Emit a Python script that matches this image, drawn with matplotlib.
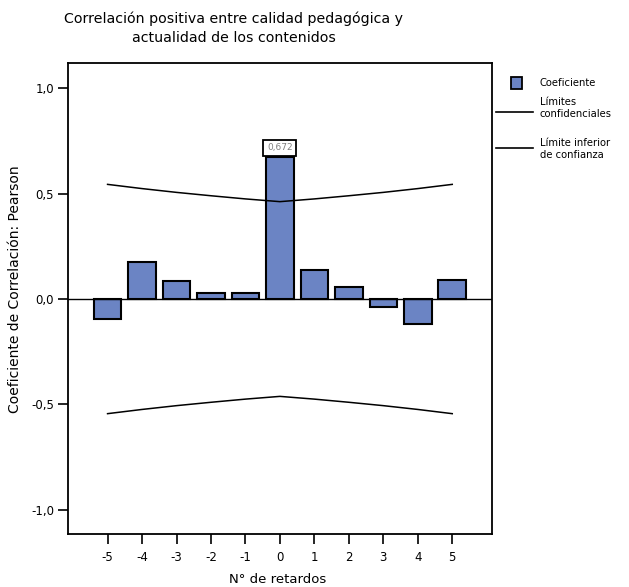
import matplotlib.pyplot as plt
from matplotlib.lines import Line2D
from matplotlib.patches import Rectangle

plt.rcParams['font.family'] = ['DejaVu Sans']

# Datos
retardos = [-5, -4, -3, -2, -1, 0, 1, 2, 3, 4, 5]
coeficientes = [-0.093, 0.174, 0.084, 0.028, 0.028, 0.672, 0.137, 0.055, -0.036, -0.118, 0.091]
limite_superior = [0.544, 0.524, 0.506, 0.490, 0.475, 0.462, 0.475, 0.490, 0.506, 0.524, 0.544]
limite_inferior = [-v for v in limite_superior]
yticks = [-1.0, -0.5, 0.0, 0.5, 1.0]
ytick_labels = ['-1,0', '-0,5', '0,0', '0,5', '1,0']

bar_color = '#6b84c4'

fig = plt.figure(figsize=(6.29, 5.87), dpi=100)
ax = fig.add_axes([0.108, 0.0903, 0.674, 0.8024])

ax.bar(retardos, coeficientes, width=0.8, color=bar_color, edgecolor='black', linewidth=1.5, zorder=2)
ax.plot(retardos, limite_superior, color='black', linewidth=1.1, zorder=3)
ax.plot(retardos, limite_inferior, color='black', linewidth=1.1, zorder=3)
ax.axhline(0, color='black', linewidth=1.0, zorder=4)

# Etiqueta del valor maximo
i_max = coeficientes.index(max(coeficientes))
ax.annotate(f"{coeficientes[i_max]:.3f}".replace('.', ','),
            xy=(retardos[i_max], coeficientes[i_max]), xytext=(0, 7),
            textcoords='offset points', ha='center', va='center',
            fontsize=6.5, color='#808080',
            bbox=dict(boxstyle='square,pad=0.4', fc='white', ec='black', lw=1.3))

ax.set_xlim(-6.15, 6.15)
ax.set_ylim(-1.115, 1.12)
ax.set_xticks(retardos)
ax.set_xticklabels([str(r) for r in retardos], fontsize=8.5)
ax.set_yticks(yticks)
ax.set_yticklabels(ytick_labels, fontsize=8.5)
ax.tick_params(axis='both', direction='out', length=7, width=1.2, pad=3)
ax.tick_params(axis='x', pad=5)
for s in ax.spines.values():
    s.set_linewidth(1.3)

ax.set_xlabel('N° de retardos', fontsize=9.5)
ax.set_ylabel('Coeficiente de Correlación: Pearson', fontsize=10)
ax.xaxis.set_label_coords(0.495, -0.083)
ax.yaxis.set_label_coords(-0.108, 0.52)

fig.text(0.372, 0.952, 'Correlación positiva entre calidad pedagógica y\nactualidad de los contenidos',
         ha='center', va='center', fontsize=10.2, linespacing=1.45)

# Leyenda
W, H = 629, 587
fig.add_artist(Rectangle((511 / W, 1 - 89 / H), 11 / W, 12 / H, transform=fig.transFigure,
                         facecolor=bar_color, edgecolor='black', lw=1.3))
fig.text(540 / W, 1 - 83 / H, 'Coeficiente', fontsize=7.2, va='center')
fig.add_artist(Line2D([496 / W, 533 / W], [1 - 111.5 / H, 1 - 111.5 / H], transform=fig.transFigure,
                      color='black', lw=1.2))
fig.text(540 / W, 1 - 108 / H, 'Límites\nconfidenciales', fontsize=7.2, va='center', linespacing=1.25)
fig.add_artist(Line2D([496 / W, 533 / W], [1 - 148.5 / H, 1 - 148.5 / H], transform=fig.transFigure,
                      color='black', lw=1.2))
fig.text(540 / W, 1 - 149 / H, 'Límite inferior\nde confianza', fontsize=7.2, va='center', linespacing=1.25)

fig.savefig('out.png', dpi=100)
